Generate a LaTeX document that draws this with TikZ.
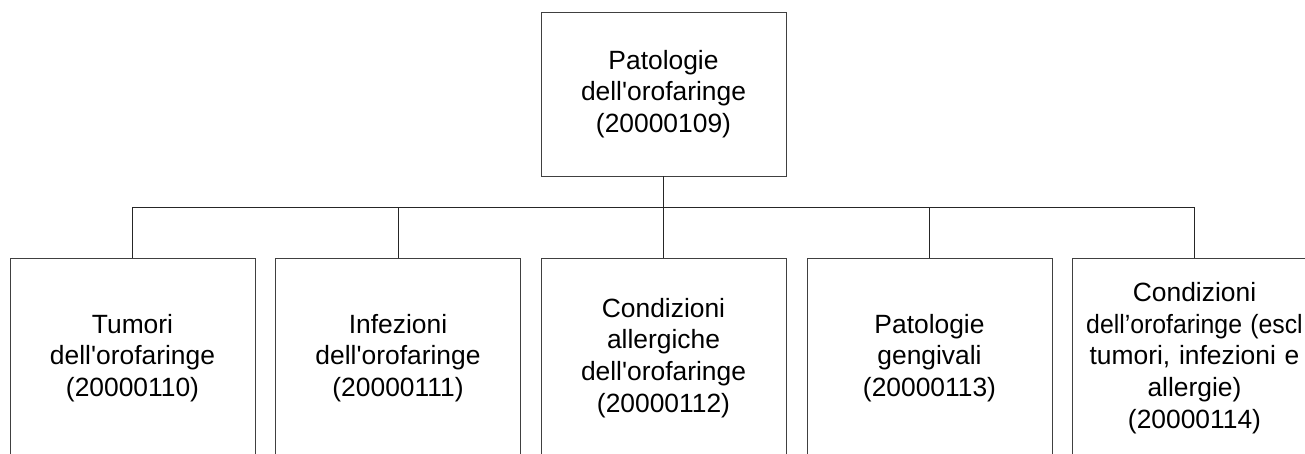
\documentclass[tikz,border=0pt]{standalone}
\usepackage{graphicx}
\usepackage{fontspec}
\setmainfont{Liberation Sans}
\begin{document}
\begin{tikzpicture}[x=1pt,y=1pt,
  box/.style={draw=black!75, line width=0.9pt, minimum width=245pt, text width=245pt, align=center, inner sep=0pt,
    font=\fontsize{26.4}{31.7}\selectfont},
  link/.style={draw=black!85, line width=0.9pt}]
\useasboundingbox (0,0) rectangle (1305,454);
\clip (0,0) rectangle (1305,454);
\node[box, minimum height=164pt] (top) at (663.5,360) {Patologie\\dell\textquotesingle orofaringe\\(20000109)};
\node[box, minimum height=200pt] (b1) at (132.5,96) {Tumori\\dell\textquotesingle orofaringe\\(20000110)};
\node[box, minimum height=200pt] (b2) at (398,96) {Infezioni\\dell\textquotesingle orofaringe\\(20000111)};
\node[box, minimum height=200pt] (b3) at (663.5,96) {Condizioni\\allergiche\\dell\textquotesingle orofaringe\\(20000112)};
\node[box, minimum height=200pt] (b4) at (929.5,96) {Patologie\\gengivali\\(20000113)};
\node[box, minimum height=200pt] (b5) at (1194.5,96) {Condizioni\\\scalebox{0.94}[1]{dell’orofaringe (escl}\\tumori, infezioni e\\allergie)\\(20000114)};
\coordinate (j) at (663.5,247);
\draw[link] (top.south) -- (j);
\foreach \b in {b1,b2,b3,b4,b5} \draw[link] (j) -| (\b.north);
\end{tikzpicture}
\end{document}
